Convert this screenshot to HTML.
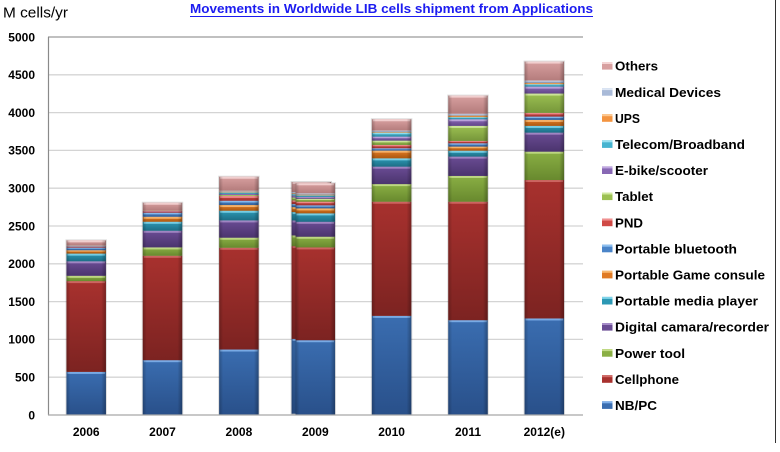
<!DOCTYPE html>
<html>
<head>
<meta charset="utf-8">
<style>
html,body{margin:0;padding:0;background:#fff;}
svg{display:block;font-family:"Liberation Sans",Arial,sans-serif;}
</style>
</head>
<body>
<svg id="c" width="780" height="452" viewBox="0 0 780 452" xmlns="http://www.w3.org/2000/svg">
<defs id="defs">
 <linearGradient id="hs" x1="0" y1="0" x2="1" y2="0">
  <stop offset="0" stop-color="#000" stop-opacity="0.22"/>
  <stop offset="0.1" stop-color="#000" stop-opacity="0"/>
  <stop offset="0.88" stop-color="#000" stop-opacity="0"/>
  <stop offset="1" stop-color="#000" stop-opacity="0.28"/>
 </linearGradient>
</defs>
<rect x="0" y="0" width="780" height="452" fill="#fff"/>
<!-- title -->
<text x="3" y="17.3" font-size="15" fill="#000" textLength="65" lengthAdjust="spacingAndGlyphs">M cells/yr</text>
<text x="190" y="13" font-size="13" font-weight="bold" fill="#1c1cf0" textLength="403" lengthAdjust="spacingAndGlyphs">Movements in Worldwide LIB cells shipment from Applications</text>
<line x1="190" y1="16.5" x2="593" y2="16.5" stroke="#1c1cf0" stroke-width="1"/>
<!-- gridlines -->
<g id="grid" stroke="#d4d4d4" stroke-width="1.3">
 <line x1="48" y1="74.8" x2="583" y2="74.8"/>
 <line x1="48" y1="112.6" x2="583" y2="112.6"/>
 <line x1="48" y1="150.4" x2="583" y2="150.4"/>
 <line x1="48" y1="188.2" x2="583" y2="188.2"/>
 <line x1="48" y1="226" x2="583" y2="226"/>
 <line x1="48" y1="263.8" x2="583" y2="263.8"/>
 <line x1="48" y1="301.6" x2="583" y2="301.6"/>
 <line x1="48" y1="339.4" x2="583" y2="339.4"/>
 <line x1="48" y1="377.2" x2="583" y2="377.2"/>
</g>
<line x1="48" y1="37" x2="583" y2="37" stroke="#9a9a9a" stroke-width="1.2"/>
<g id="bars"></g>
<!-- axes -->
<line x1="48.5" y1="37" x2="48.5" y2="415" stroke="#8a8a8a" stroke-width="1.2"/>
<line x1="48" y1="415" x2="583" y2="415" stroke="#a8a8a8" stroke-width="1.2"/>
<!-- y labels -->
<g font-size="12" font-weight="bold" fill="#000" text-anchor="end">
 <text x="35" y="41.3">5000</text>
 <text x="35" y="79.1">4500</text>
 <text x="35" y="116.9">4000</text>
 <text x="35" y="154.7">3500</text>
 <text x="35" y="192.5">3000</text>
 <text x="35" y="230.3">2500</text>
 <text x="35" y="268.1">2000</text>
 <text x="35" y="305.9">1500</text>
 <text x="35" y="343.7">1000</text>
 <text x="35" y="381.5">500</text>
 <text x="35" y="419.3">0</text>
</g>
<!-- x labels -->
<g font-size="12" font-weight="bold" fill="#000" text-anchor="middle">
 <text x="86.2" y="436">2006</text>
 <text x="162.5" y="436">2007</text>
 <text x="238.9" y="436">2008</text>
 <text x="315.3" y="436">2009</text>
 <text x="391.6" y="436">2010</text>
 <text x="468" y="436">2011</text>
 <text x="544.3" y="436">2012(e)</text>
</g>
<!-- legend -->
<g id="legsq"></g>
<g font-size="13" font-weight="bold" fill="#000">
 <text x="615" y="70.7" textLength="43" lengthAdjust="spacingAndGlyphs">Others</text>
 <text x="615" y="96.8" textLength="106" lengthAdjust="spacingAndGlyphs">Medical Devices</text>
 <text x="615" y="122.9" textLength="25" lengthAdjust="spacingAndGlyphs">UPS</text>
 <text x="615" y="149" textLength="130" lengthAdjust="spacingAndGlyphs">Telecom/Broadband</text>
 <text x="615" y="175.1" textLength="93" lengthAdjust="spacingAndGlyphs">E-bike/scooter</text>
 <text x="615" y="201.2" textLength="38" lengthAdjust="spacingAndGlyphs">Tablet</text>
 <text x="615" y="227.3" textLength="28" lengthAdjust="spacingAndGlyphs">PND</text>
 <text x="615" y="253.4" textLength="122" lengthAdjust="spacingAndGlyphs">Portable bluetooth</text>
 <text x="615" y="279.5" textLength="150" lengthAdjust="spacingAndGlyphs">Portable Game consule</text>
 <text x="615" y="305.6" textLength="143" lengthAdjust="spacingAndGlyphs">Portable media player</text>
 <text x="615" y="331.7" textLength="154" lengthAdjust="spacingAndGlyphs">Digital camara/recorder</text>
 <text x="615" y="357.8" textLength="70" lengthAdjust="spacingAndGlyphs">Power tool</text>
 <text x="615" y="383.9" textLength="64" lengthAdjust="spacingAndGlyphs">Cellphone</text>
 <text x="615" y="410" textLength="42" lengthAdjust="spacingAndGlyphs">NB/PC</text>
</g>
<!-- right border -->
<line x1="775.5" y1="0" x2="775.5" y2="443" stroke="#333" stroke-width="1"/>
</svg>
<script>
(function(){
var ns="http://www.w3.org/2000/svg";
function el(t,a,p){var e=document.createElementNS(ns,t);for(var k in a)e.setAttribute(k,a[k]);p.appendChild(e);return e;}
var cols=[
 ["#3a6db0","#7fb0ea","#29508a"],
 ["#a8312e","#d06a66","#7c2321"],
 ["#8aaf44","#c3dc88","#68892e"],
 ["#6a4c94","#a68cc8","#4b346e"],
 ["#2c98b4","#80d4ea","#1d6e86"],
 ["#e07a24","#f8b870","#ac5810"],
 ["#4a84c8","#8ec0f0","#33609a"],
 ["#d04a46","#f09090","#a03030"],
 ["#9cc052","#d0e8a0","#76963a"],
 ["#8868b4","#c0a8e0","#62468a"],
 ["#46b4d0","#98e0f0","#2e8ea6"],
 ["#f39440","#fcc890","#c46e20"],
 ["#a9bad8","#dde6f4","#8090b0"],
 ["#d8a0a0","#f4d4d4","#b47c7c"]
];
var data=[
 [570,1771,1841,2033,2135,2179,2214,2228,2228,2232,2236,2239,2243,2310],
 [725,2106,2217,2437,2556,2622,2676,2695,2695,2698,2700,2703,2703,2808],
 [866,2212,2345,2574,2702,2777,2834,2897,2910,2925,2945,2955,2966,3152],
 [989,2217,2358,2556,2667,2733,2773,2821,2860,2885,2905,2915,2932,3065],
 [1311,2821,3054,3285,3395,3497,3528,3572,3629,3682,3735,3745,3762,3912],
 [1254,2821,3162,3418,3496,3550,3594,3625,3824,3912,3940,3960,3985,4225],
 [1277,3108,3483,3735,3824,3903,3947,3996,4252,4344,4376,4393,4424,4675]
];
var defs=document.getElementById("defs");
cols.forEach(function(c,i){
 var g=el("linearGradient",{id:"g"+i,x1:"0",y1:"0",x2:"0",y2:"1"},defs);
 el("stop",{offset:"0","stop-color":c[0]},g);
 el("stop",{offset:"1","stop-color":c[2]},g);
});
function Y(v){return 415-0.0756*v;}
var bars=document.getElementById("bars");
var W=39.5;
function drawBar(cx,tops,dy){
 var x=cx-W/2;
 var top=Y(tops[13])+dy;
 el("rect",{x:x-1,y:top-1,width:W+2,height:415-top+1,fill:"#000","fill-opacity":"0.13"},bars);
 var prev=0;
 for(var i=0;i<14;i++){
  var yt=Y(tops[i])+dy, yb=Math.min(415,Y(prev)+dy);
  prev=tops[i];
  var h=yb-yt; if(h<=0.05) continue;
  el("rect",{x:x,y:yt,width:W,height:h,fill:"url(#g"+i+")"},bars);
  el("rect",{x:x+1,y:yt,width:W-2,height:Math.min(2,h*0.4),fill:cols[i][1],"fill-opacity":"0.9"},bars);
 }
 el("rect",{x:x,y:top,width:W,height:415-top,fill:"url(#hs)"},bars);
}
var centers=[86.2,162.5,238.9,315.3,391.6,468,544.3];
// ghost of 2009 bar
drawBar(centers[3]-4,data[3],-1.3);
for(var j=0;j<7;j++) drawBar(centers[j],data[j],0);
// legend squares
var lg=document.getElementById("legsq");
for(var k=0;k<14;k++){
 var si=13-k, cy=65.8+26.1*k;
 el("rect",{x:602,y:cy-3.8,width:10.5,height:7.6,fill:cols[si][0]},lg);
 el("rect",{x:602,y:cy-3.8,width:10.5,height:2,fill:cols[si][1]},lg);
}
})();
</script>
</body>
</html>
